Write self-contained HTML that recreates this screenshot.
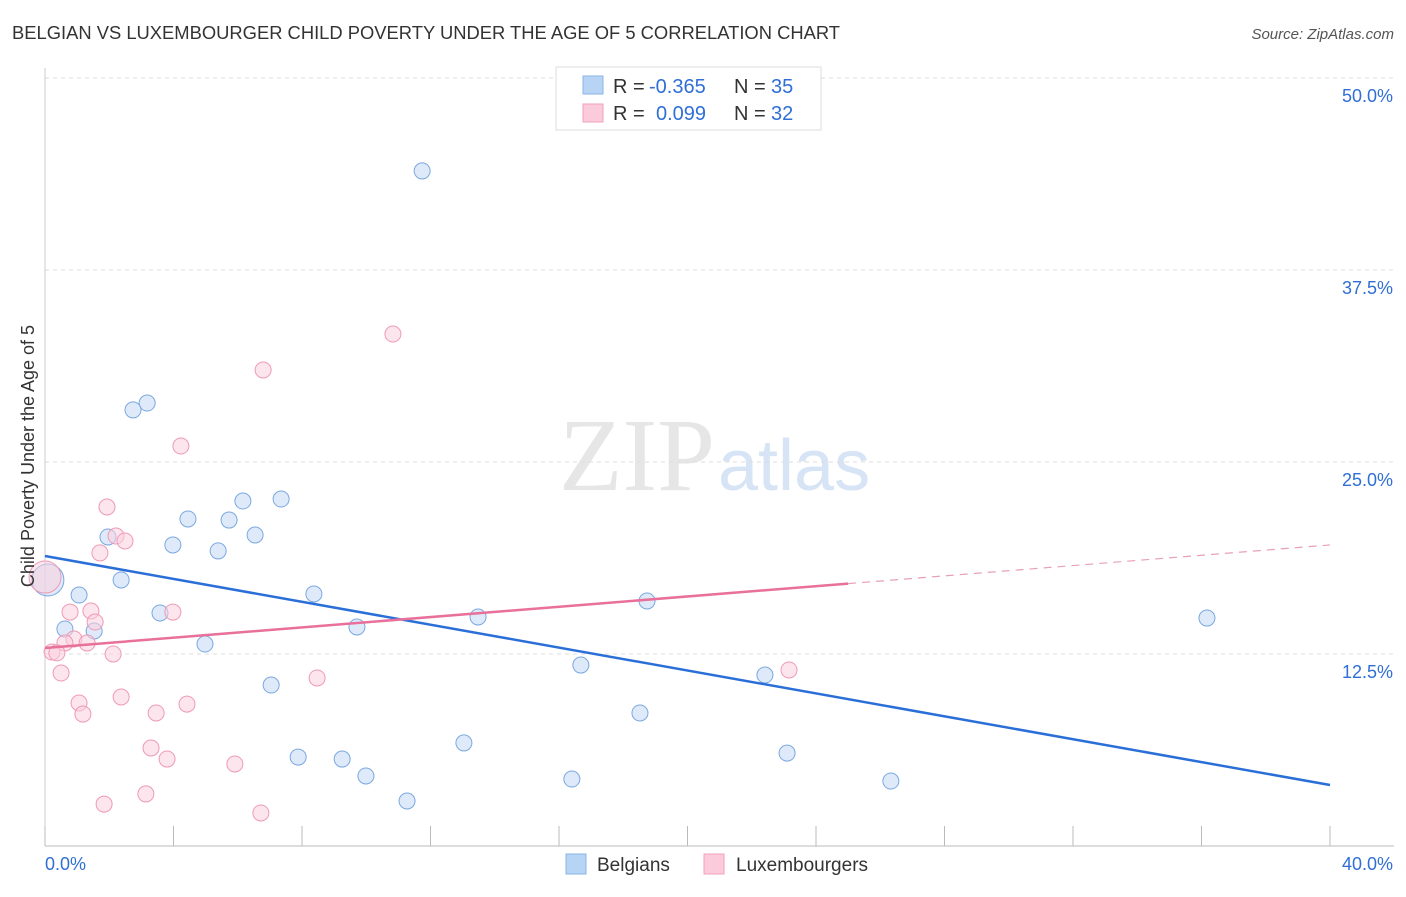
<!DOCTYPE html>
<html><head><meta charset="utf-8"><style>
body{margin:0;background:#fff;font-family:"Liberation Sans",sans-serif;}
svg text{font-family:"Liberation Sans",sans-serif;}
</style></head><body>
<svg id="chart" width="1406" height="892">
<text x="12" y="39" font-size="18" fill="#333" textLength="828" lengthAdjust="spacingAndGlyphs">BELGIAN VS LUXEMBOURGER CHILD POVERTY UNDER THE AGE OF 5 CORRELATION CHART</text>
<text x="1394" y="39" font-size="15" fill="#555" font-style="italic" text-anchor="end">Source: ZipAtlas.com</text>
<text x="715" y="490" font-size="104" fill="#e6e6e6" text-anchor="end" style="font-family:'Liberation Serif',serif">ZIP</text>
<text x="718" y="490" font-size="72" fill="#d6e4f5">atlas</text>
<g id="grid"></g><g id="axes"></g><g id="marks"></g>
<text transform="translate(34,456) rotate(-90)" font-size="18" fill="#333" text-anchor="middle">Child Poverty Under the Age of 5</text>
<g>
<rect x="556" y="67" width="265" height="63" fill="#fff" stroke="#ddd"/>
<rect x="583" y="76" width="20" height="18" fill="#b8d4f5" stroke="#8ab4e8"/>
<rect x="583" y="104" width="20" height="18" fill="#fbcadb" stroke="#f0a0bb"/>
<text x="613" y="93" font-size="20" fill="#333">R = <tspan x="649" fill="#2f6fd6">-0.365</tspan><tspan x="734">N = </tspan><tspan x="771" fill="#2f6fd6">35</tspan></text>
<text x="613" y="120" font-size="20" fill="#333">R = <tspan x="656" fill="#2f6fd6">0.099</tspan><tspan x="734">N = </tspan><tspan x="771" fill="#2f6fd6">32</tspan></text>
</g>
<g>
<rect x="566" y="854" width="20" height="20" fill="#b8d4f5" stroke="#8ab4e8"/>
<text x="597" y="871" font-size="19" fill="#333">Belgians</text>
<rect x="704" y="854" width="20" height="20" fill="#fbcadb" stroke="#f0a0bb"/>
<text x="736" y="871" font-size="19" fill="#333">Luxembourgers</text>
</g>
</svg>
<script>
const blueX=[11.74,3.18,2.74,6.16,7.35,4.45,5.73,6.54,1.96,3.98,5.39,2.37,0.09,1.06,8.37,3.58,13.48,18.74,36.17,0.62,1.53,9.71,4.98,16.68,7.04,22.41,18.52,13.04,7.88,9.25,9.99,16.40,23.10,26.33,11.27];
const blueY=[43.95,28.84,28.39,22.46,22.59,21.29,21.22,20.25,20.12,19.60,19.21,17.32,17.32,16.34,16.41,15.17,14.91,15.95,14.84,14.13,14.00,14.26,13.15,11.78,10.48,11.13,8.66,6.71,5.79,5.66,4.56,4.36,6.05,4.23,2.93];
const pinkX=[10.83,6.79,4.23,1.93,2.21,2.49,1.71,0.78,1.43,3.98,1.56,0.90,1.31,0.62,0.22,0.37,2.12,0.50,8.47,23.16,2.37,1.06,4.42,1.18,3.46,3.30,3.80,5.91,3.14,1.84,6.72,0.0];
const pinkY=[33.33,30.99,26.04,22.07,20.18,19.86,19.08,15.23,15.30,15.23,14.58,13.48,13.22,13.22,12.63,12.57,12.50,11.26,10.94,11.46,9.70,9.31,9.24,8.59,8.66,6.38,5.66,5.34,3.39,2.73,2.15,17.51];
const blueTrend=[18.88,3.97];
const pinkTrend=[12.89,19.6];
const pinkSolidEnd=25;
const yTicks=[12.5,25,37.5,50];
const yTickLabels=["12.5%","25.0%","37.5%","50.0%"];
const xTickLabels=["0.0%","40.0%"];
const NS="http://www.w3.org/2000/svg";
const X=v=>45+v*32.125, Y=v=>846-v*15.36;
function mk(p,t,a){const e=document.createElementNS(NS,t);for(const k in a)e.setAttribute(k,a[k]);p.appendChild(e);return e;}
const grid=document.getElementById('grid'),axes=document.getElementById('axes'),marks=document.getElementById('marks');
yTicks.forEach((t,i)=>{
 const l=mk(grid,'line',{x1:45,x2:1394,y1:Y(t),y2:Y(t),stroke:'#ddd','stroke-dasharray':'4,4'});
 
 
 const tx=mk(grid,'text',{x:1393,y:Y(t)+24,'font-size':18,fill:'#2f6fd6','text-anchor':'end'});tx.textContent=yTickLabels[i];
 
 
});
mk(axes,'line',{x1:45,x2:45,y1:68,y2:846,stroke:'#ccc'});
mk(axes,'line',{x1:45,x2:1394,y1:846,y2:846,stroke:'#bbb'});
for(let i=0;i<=10;i++){const x=X(i*4);mk(axes,'line',{x1:x,x2:x,y1:826,y2:846,stroke:'#bbb'});}
const xl0=mk(axes,'text',{x:45,y:870,'font-size':18,fill:'#2f6fd6'});xl0.textContent=xTickLabels[0];


const xl1=mk(axes,'text',{x:1393,y:870,'font-size':18,fill:'#2f6fd6','text-anchor':'end'});xl1.textContent=xTickLabels[1];


function pts(xs,ys,fill,stroke,name){xs.forEach((x,i)=>{
 const big=(x<0.2&&ys[i]>17);
 const c=mk(marks,'circle',{cx:X(x),cy:Y(ys[i]),r:big?16:8,fill:fill,'fill-opacity':0.55,stroke:stroke,'stroke-width':1});
 
 
});}
pts(blueX,blueY,'#c3d9f5','#7aa8e0','belgian-point');
pts(pinkX,pinkY,'#fbd0de','#ee9ab6','luxembourger-point');
const bl=mk(marks,'line',{x1:X(0),y1:Y(blueTrend[0]),x2:X(40),y2:Y(blueTrend[1]),stroke:'#2a6fd8','stroke-width':2.5});


const py=x=>pinkTrend[0]+(pinkTrend[1]-pinkTrend[0])*x/40;
const pl=mk(marks,'line',{x1:X(0),y1:Y(py(0)),x2:X(pinkSolidEnd),y2:Y(py(pinkSolidEnd)),stroke:'#e8709a','stroke-width':2.5});


const pd=mk(marks,'line',{x1:X(pinkSolidEnd),y1:Y(py(pinkSolidEnd)),x2:X(40),y2:Y(py(40)),stroke:'#e8a0b8','stroke-width':1.2,'stroke-dasharray':'8,6'});


</script>
</body></html>
